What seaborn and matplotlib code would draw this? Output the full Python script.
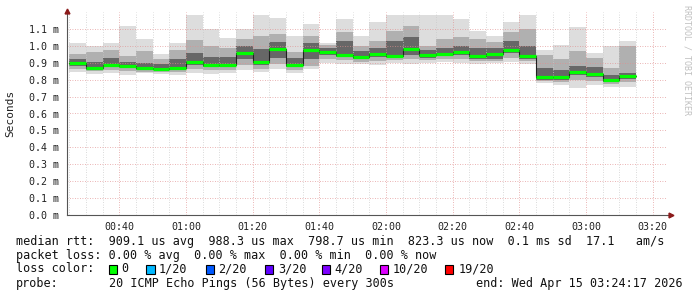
import numpy as np
import pandas as pd
import matplotlib
matplotlib.use("Agg")
import matplotlib.pyplot as plt
import matplotlib.dates as mdates
from matplotlib.patches import Rectangle
import seaborn as sns

# ---------------- data (milliseconds) ----------------
sample_times = pd.date_range("2026-04-15 00:30", "2026-04-15 03:15", freq="5min")
median = [0.900, 0.871, 0.889, 0.883, 0.869, 0.863, 0.871, 0.902, 0.889, 0.889,
          0.956, 0.902, 0.981, 0.889, 0.977, 0.962, 0.948, 0.934, 0.952, 0.942,
          0.983, 0.944, 0.954, 0.964, 0.942, 0.950, 0.977, 0.938, 0.816, 0.816,
          0.847, 0.835, 0.798, 0.822]
smoke_top = [1.014, 0.998, 1.014, 1.120, 1.043, 0.949, 1.014, 1.184, 1.100, 1.047,
             1.100, 1.184, 1.165, 1.061, 1.131, 1.018, 1.161, 1.061, 1.141, 1.184,
             1.184, 1.184, 1.184, 1.161, 1.086, 1.061, 1.141, 1.184, 0.978, 1.002,
             1.112, 0.955, 0.998, 1.031]
smoke_hi2 = [0.950, 0.965, 0.975, 0.940, 0.970, 0.925, 0.975, 1.035, 1.000, 0.985,
             1.040, 1.060, 1.070, 0.965, 1.060, 1.005, 1.080, 1.000, 1.030, 1.090,
             1.120, 1.000, 1.040, 1.050, 1.040, 1.020, 1.080, 1.100, 0.945, 0.920,
             0.970, 0.930, 0.870, 1.000]
smoke_hi1 = [0.920, 0.905, 0.930, 0.905, 0.900, 0.895, 0.920, 0.955, 0.935, 0.935,
             1.000, 0.980, 1.020, 0.930, 1.015, 0.985, 1.030, 0.970, 0.985, 1.030,
             1.050, 0.975, 0.990, 1.000, 0.990, 0.985, 1.030, 1.000, 0.870, 0.860,
             0.880, 0.875, 0.830, 0.840]
smoke_lo1 = [0.880, 0.860, 0.875, 0.870, 0.860, 0.855, 0.860, 0.885, 0.875, 0.875,
             0.920, 0.885, 0.930, 0.875, 0.920, 0.945, 0.935, 0.920, 0.935, 0.930,
             0.945, 0.930, 0.940, 0.945, 0.925, 0.925, 0.955, 0.925, 0.800, 0.800,
             0.825, 0.815, 0.785, 0.805]
smoke_lo2 = [0.862, 0.850, 0.858, 0.850, 0.848, 0.845, 0.845, 0.865, 0.855, 0.855,
             0.885, 0.865, 0.895, 0.860, 0.880, 0.920, 0.915, 0.905, 0.910, 0.915,
             0.920, 0.915, 0.920, 0.925, 0.910, 0.910, 0.930, 0.910, 0.790, 0.785,
             0.800, 0.795, 0.775, 0.785]
smoke_bottom = [0.845, 0.831, 0.837, 0.827, 0.837, 0.833, 0.827, 0.837, 0.831, 0.837,
                0.855, 0.847, 0.865, 0.837, 0.861, 0.900, 0.890, 0.890, 0.886, 0.900,
                0.890, 0.900, 0.904, 0.900, 0.894, 0.900, 0.906, 0.894, 0.779, 0.767,
                0.749, 0.767, 0.759, 0.757]

y_ticks = [0.0, 0.1, 0.2, 0.3, 0.4, 0.5, 0.6, 0.7, 0.8, 0.9, 1.0, 1.1]
y_tick_labels = ["%.1f m" % v for v in y_ticks]

stats_line = "median rtt:  909.1 us avg  988.3 us max  798.7 us min  823.3 us now  0.1 ms sd  17.1   am/s"
loss_line = "packet loss: 0.00 % avg  0.00 % max  0.00 % min  0.00 % now"
loss_labels = ["0", "1/20", "2/20", "3/20", "4/20", "10/20", "19/20"]
loss_colors = ["#00ff00", "#00b8ff", "#0059ff", "#5e00ff", "#7e00ff", "#dd00ff", "#ff0000"]
probe_text = "20 ICMP Echo Pings (56 Bytes) every 300s"
end_text = "end: Wed Apr 15 03:24:17 2026"

# ---------------- figure ----------------
sns.set_style("white")
plt.rcParams["font.family"] = ["DejaVu Sans Mono", "DejaVu Sans"]

W, H = 697, 297
fig = plt.figure(figsize=(W / 100, H / 100), dpi=100)
fig.patch.set_facecolor("white")
ax = fig.add_axes([67 / W, 1 - 215 / H, 600 / W, (215 - 12) / H])
ax.set_facecolor("white")

t_start = pd.Timestamp("2026-04-15 00:24:17")
t_end = pd.Timestamp("2026-04-15 03:24:17")
step = pd.Timedelta(minutes=5)

lefts = [max(t - step, t_start) for t in sample_times]
widths = [(t - l) / pd.Timedelta(days=1) for t, l in zip(sample_times, lefts)]
lefts_num = mdates.date2num(lefts)

top = np.array(smoke_top); bot = np.array(smoke_bottom)
h2 = np.array(smoke_hi2); l2 = np.array(smoke_lo2)
h1 = np.array(smoke_hi1); l1 = np.array(smoke_lo1)
med = np.array(median)

ax.bar(lefts_num, top - bot, bottom=bot, width=widths, align="edge",
       color="#dddddd", linewidth=0, zorder=2)
ax.bar(lefts_num, h2 - l2, bottom=l2, width=widths, align="edge",
       color="#b0b0b0", linewidth=0, zorder=2)
ax.bar(lefts_num, h1 - l1, bottom=l1, width=widths, align="edge",
       color="#676767", linewidth=0, zorder=2)

# median step line (dark) and green loss-colored bands
step_df = pd.DataFrame({
    "t": list(lefts) + [sample_times[-1]],
    "rtt": list(median) + [median[-1]],
})
sns.lineplot(data=step_df, x="t", y="rtt", drawstyle="steps-post",
             color="#202020", linewidth=0.8, ax=ax, zorder=4)
ax.hlines(med, lefts_num, mdates.date2num(list(sample_times)),
          color="#00ff00", linewidth=2.3, zorder=5)

ax.set_xlim(mdates.date2num(t_start), mdates.date2num(t_end))
ax.set_ylim(0, 1.2)
ax.set_xlabel("")
ax.set_ylabel("")

ax.xaxis.set_major_locator(mdates.MinuteLocator(byminute=[0, 20, 40]))
ax.xaxis.set_minor_locator(mdates.MinuteLocator(byminute=range(0, 60, 5)))
ax.xaxis.set_major_formatter(mdates.DateFormatter("%H:%M"))
ax.set_yticks(y_ticks)
ax.set_yticklabels(y_tick_labels)

# grid
for t in ax.xaxis.get_minorticklocs():
    ax.axvline(t, color="#c8c8c8", linewidth=0.6, linestyle=(0, (1, 2)), zorder=3, alpha=0.9)
for t in ax.xaxis.get_majorticklocs():
    ax.axvline(t, color="#e09090", linewidth=0.6, linestyle=(0, (1, 2)), zorder=3, alpha=0.9)
for v in y_ticks[1:]:
    ax.axhline(v, color="#e09090", linewidth=0.6, linestyle=(0, (1, 2)), zorder=3, alpha=0.9)

ax.tick_params(axis="both", which="major", labelsize=7.2, length=2, width=0.6,
               color="#555555", labelcolor="#222222", direction="out")
ax.tick_params(axis="x", which="major", pad=3)
ax.tick_params(axis="y", which="major", pad=4)
ax.tick_params(axis="x", which="minor", length=1.5, width=0.5, color="#777777")

for s in ["top", "right"]:
    ax.spines[s].set_visible(False)
for s in ["left", "bottom"]:
    ax.spines[s].set_color("#555555")
    ax.spines[s].set_linewidth(0.8)
    ax.spines[s].set_zorder(6)

# axis arrows
ax.plot([0], [1.005], marker="^", markersize=3.5, color="#8b1a1a",
        transform=ax.transAxes, clip_on=False, zorder=7)
ax.plot([1.007], [0.0], marker=">", markersize=3.5, color="#8b1a1a",
        transform=ax.transAxes, clip_on=False, zorder=7)
ax.plot([1.0, 1.007], [0.0, 0.0], color="#555555", linewidth=0.8,
        transform=ax.transAxes, clip_on=False, zorder=6)

# ---------------- texts ----------------
def fx(x):
    return x / W

def fy(y):
    return 1 - y / H

fig.text(fx(10), fy(113), "Seconds", rotation=90, ha="center", va="center",
         fontsize=8, color="#222222")
fig.text(fx(687), fy(5), "RRDTOOL / TOBI OETIKER", rotation=270, ha="center",
         va="top", fontsize=6, color="#c0c0c0")

fs = 8.5
fig.text(fx(16), fy(241), stats_line, ha="left", va="center", fontsize=fs, color="#111111")
fig.text(fx(16), fy(255), loss_line, ha="left", va="center", fontsize=fs, color="#111111")
fig.text(fx(16), fy(269), "loss color:", ha="left", va="center", fontsize=fs, color="#111111")
sq_x = [108.6, 146.1, 205.5, 264.5, 321.7, 379.8, 444.6]
lbl_x = [121.0, 158.5, 218.5, 278.0, 334.5, 392.5, 459.0]
for sx, lx, lab, col in zip(sq_x, lbl_x, loss_labels, loss_colors):
    fig.patches.append(Rectangle((fx(sx), fy(273.5)), 8.5 / W, 9 / H,
                                 transform=fig.transFigure, facecolor=col,
                                 edgecolor="black", linewidth=0.8))
    fig.text(fx(lx), fy(269), lab, ha="left", va="center", fontsize=fs, color="#111111")
fig.text(fx(16), fy(283), "probe:", ha="left", va="center", fontsize=fs, color="#111111")
fig.text(fx(108.6), fy(283), probe_text, ha="left", va="center", fontsize=fs, color="#111111")
fig.text(fx(683), fy(283), end_text, ha="right", va="center", fontsize=fs, color="#111111")

fig.savefig("out.png", dpi=100, facecolor="white")
